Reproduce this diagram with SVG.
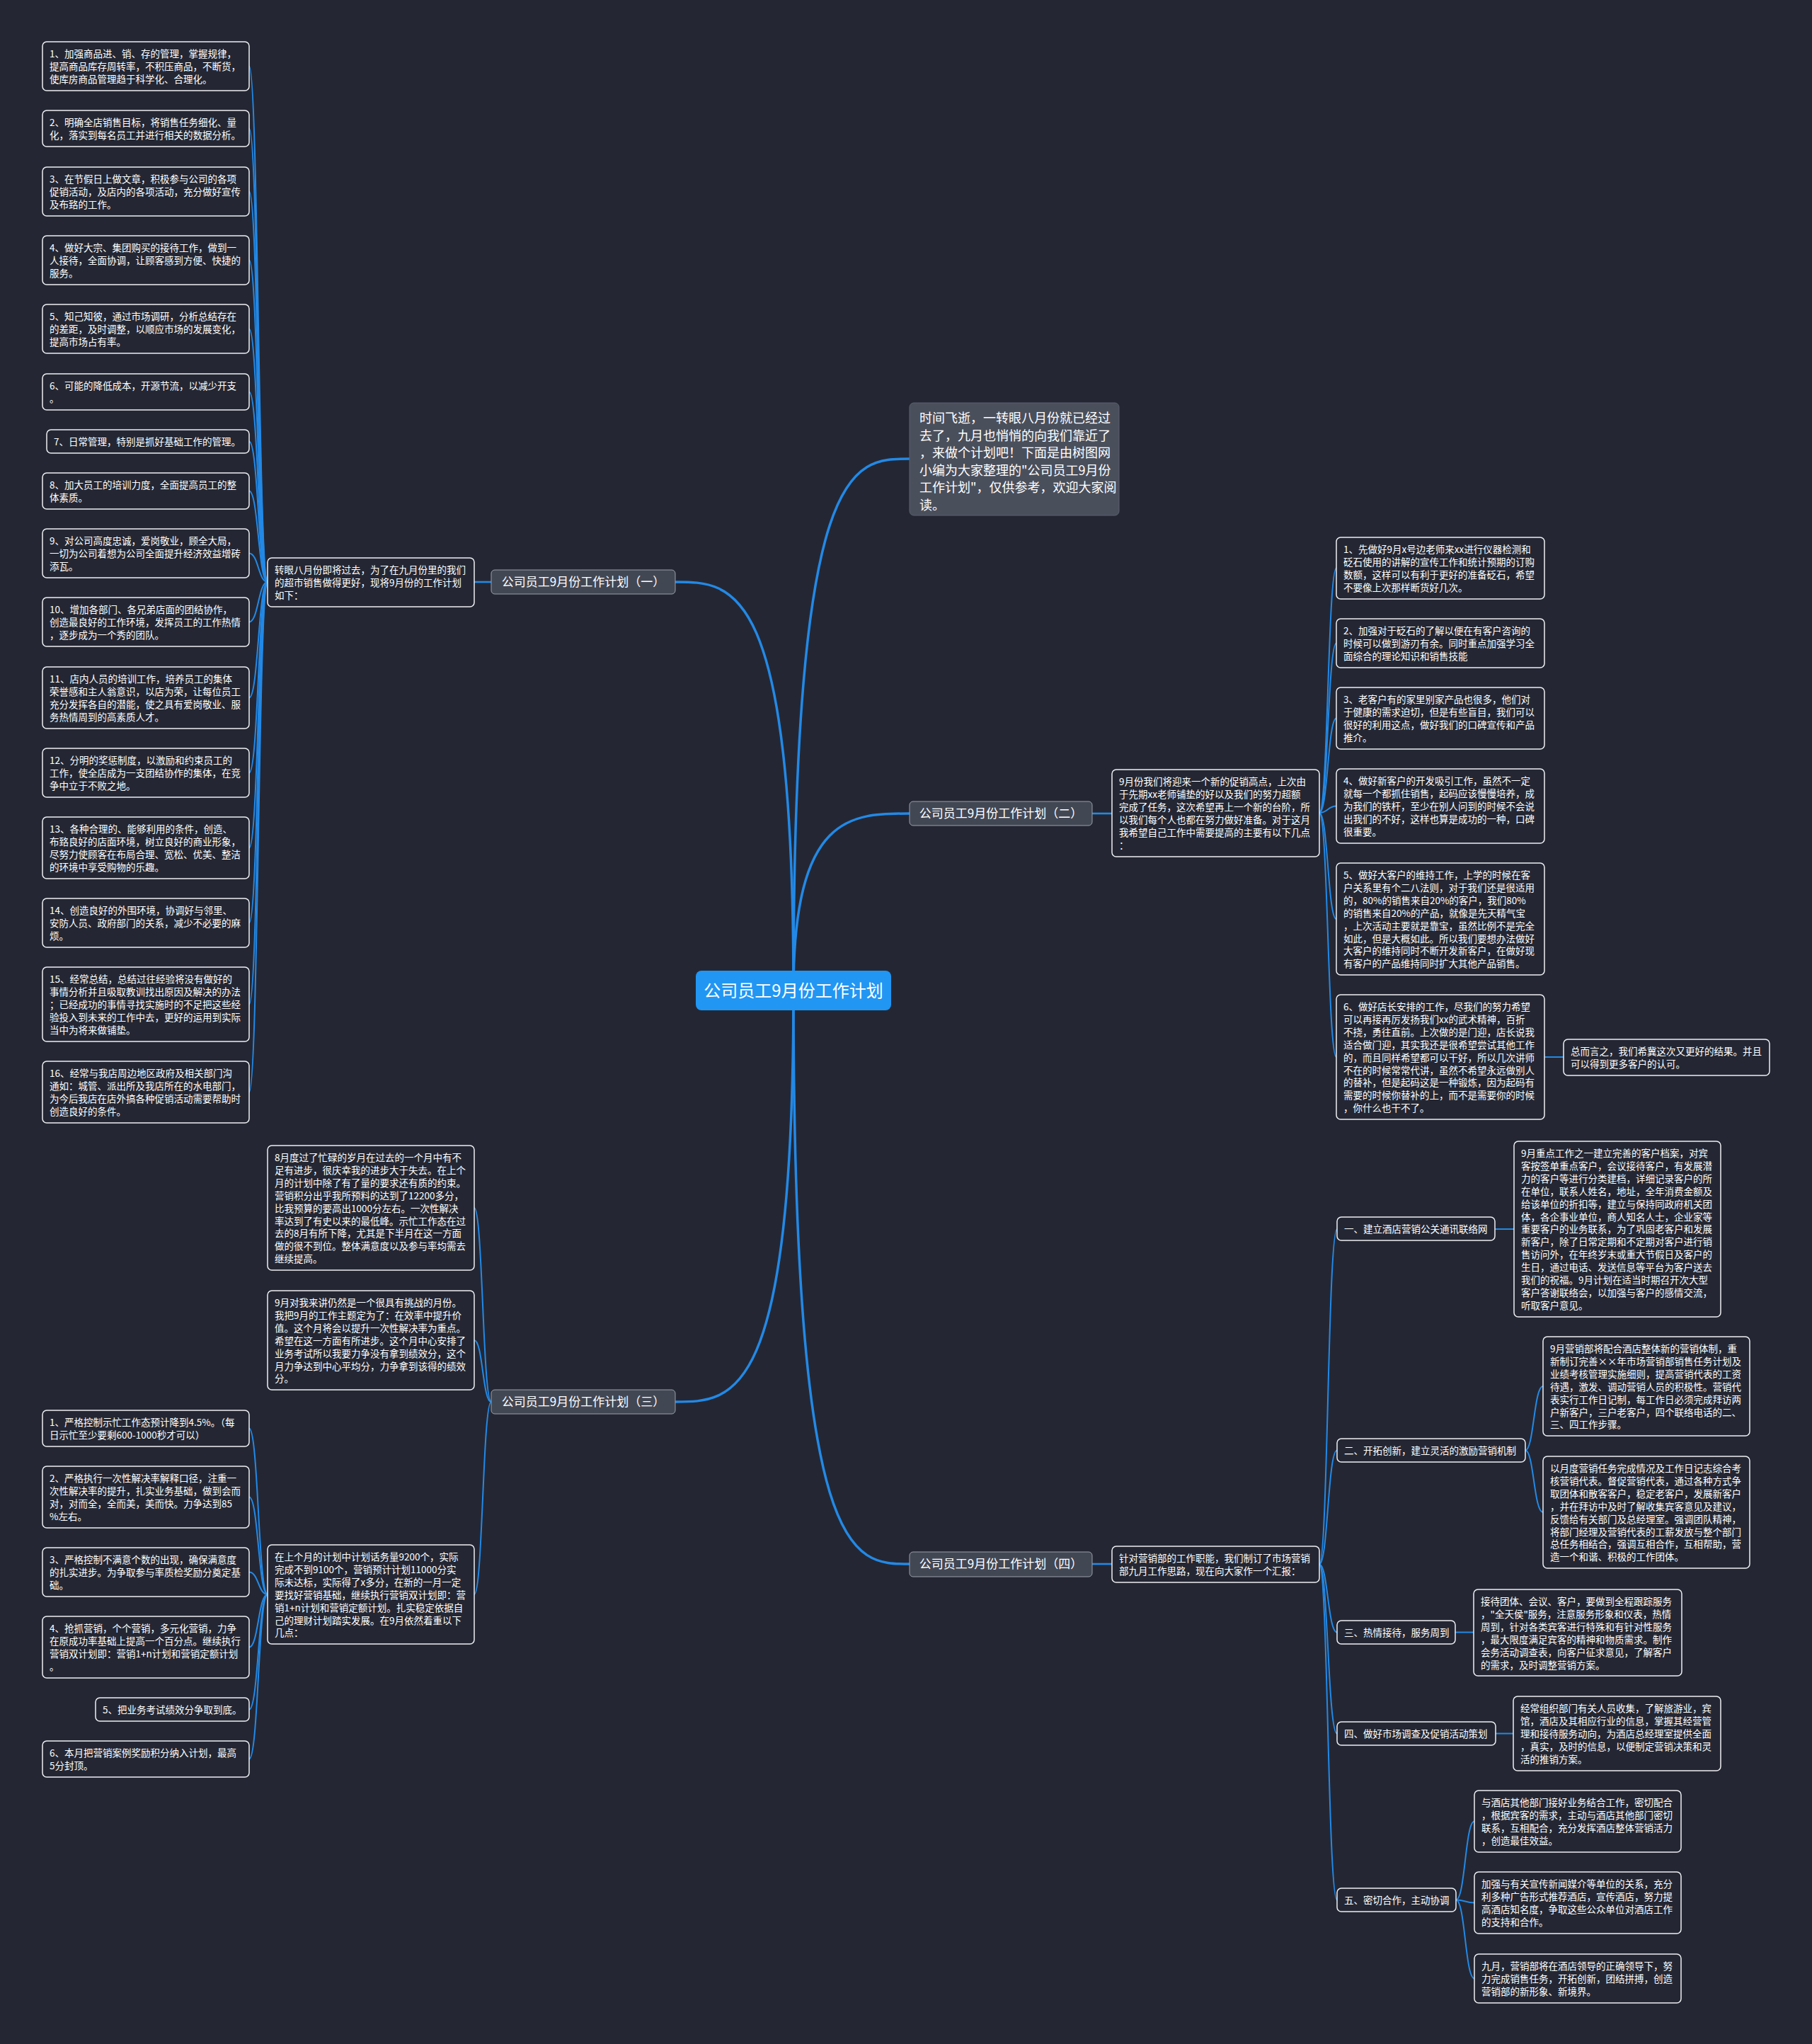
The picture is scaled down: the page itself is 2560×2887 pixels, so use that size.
<svg xmlns="http://www.w3.org/2000/svg" width="2560" height="2887" viewBox="0 0 2560 2887">
<style>
.t{font-family:"Noto Sans CJK SC","Noto Sans",sans-serif;font-size:13.5px;fill:#ffffff}
.leaf rect{fill:#242733;stroke:#eef0f3;stroke-width:1.5}
.lab rect{fill:#424754;stroke:#9aa0ab;stroke-width:1}
.lab text{font-family:"Noto Sans CJK SC","Noto Sans",sans-serif;font-size:17px;fill:#ffffff;text-anchor:middle}
.ln{fill:none;stroke:#2389e6;stroke-width:2}
.ln2{fill:none;stroke:#2389e6;stroke-width:2.6}
.tr{fill:none;stroke:#2389e6;stroke-width:3.5}
</style>
<rect width="2560" height="2887" fill="#242733"/>
<g id="connectors">
<path class="tr" d="M1121,1399 C1121,648 1203,648 1285,648"/>
<path class="tr" d="M1121,1399 C1121,822 1037,822 954,822"/>
<path class="tr" d="M1121,1399 C1121,1149 1203,1149 1285,1149"/>
<path class="tr" d="M1121,1399 C1121,1980 1037,1980 954,1980"/>
<path class="tr" d="M1121,1399 C1121,2209 1203,2209 1285,2209"/>
<path class="ln2" d="M694,822 L670,822"/>
<path class="ln2" d="M1543,1149 L1571,1149"/>
<path class="ln2" d="M1543,2209 L1571,2209"/>
<path class="ln" d="M2182,1493 L2209,1493"/>
<path class="ln" d="M2112,1736 L2139,1736"/>
<path class="ln" d="M2056,2305.5 L2082,2305.5"/>
<path class="ln" d="M2113,2448.5 L2138,2448.5"/>
<path class="ln" d="M378,822 C365,822 365,93.5 352,93.5"/>
<path class="ln" d="M378,822 C365,822 365,181.5 352,181.5"/>
<path class="ln" d="M378,822 C365,822 365,270.5 352,270.5"/>
<path class="ln" d="M378,822 C365,822 365,367.5 352,367.5"/>
<path class="ln" d="M378,822 C365,822 365,464.5 352,464.5"/>
<path class="ln" d="M378,822 C365,822 365,553.5 352,553.5"/>
<path class="ln" d="M378,822 C365,822 365,623.5 352,623.5"/>
<path class="ln" d="M378,822 C365,822 365,693.5 352,693.5"/>
<path class="ln" d="M378,822 C365,822 365,781.5 352,781.5"/>
<path class="ln" d="M378,822 C365,822 365,878.5 352,878.5"/>
<path class="ln" d="M378,822 C365,822 365,985.5 352,985.5"/>
<path class="ln" d="M378,822 C365,822 365,1091.5 352,1091.5"/>
<path class="ln" d="M378,822 C365,822 365,1197.5 352,1197.5"/>
<path class="ln" d="M378,822 C365,822 365,1303.5 352,1303.5"/>
<path class="ln" d="M378,822 C365,822 365,1418.5 352,1418.5"/>
<path class="ln" d="M378,822 C365,822 365,1542.5 352,1542.5"/>
<path class="ln" d="M694,1980 C682,1980 682,1706 670,1706"/>
<path class="ln" d="M694,1980 C682,1980 682,1893 670,1893"/>
<path class="ln" d="M694,1980 C682,1980 682,2252 670,2252"/>
<path class="ln" d="M378,2252 C365,2252 365,2017.5 352,2017.5"/>
<path class="ln" d="M378,2252 C365,2252 365,2114.5 352,2114.5"/>
<path class="ln" d="M378,2252 C365,2252 365,2220.5 352,2220.5"/>
<path class="ln" d="M378,2252 C365,2252 365,2326.5 352,2326.5"/>
<path class="ln" d="M378,2252 C365,2252 365,2414.5 352,2414.5"/>
<path class="ln" d="M378,2252 C365,2252 365,2484.5 352,2484.5"/>
<path class="ln" d="M1864,1148 C1876,1148 1876,802.5 1888,802.5"/>
<path class="ln" d="M1864,1148 C1876,1148 1876,908.5 1888,908.5"/>
<path class="ln" d="M1864,1148 C1876,1148 1876,1014.5 1888,1014.5"/>
<path class="ln" d="M1864,1148 C1876,1148 1876,1138.5 1888,1138.5"/>
<path class="ln" d="M1864,1148 C1876,1148 1876,1298 1888,1298"/>
<path class="ln" d="M1864,1148 C1876,1148 1876,1493 1888,1493"/>
<path class="ln" d="M1864,2209.5 C1876,2209.5 1876,1736 1889,1736"/>
<path class="ln" d="M1864,2209.5 C1876,2209.5 1876,2048.5 1889,2048.5"/>
<path class="ln" d="M1864,2209.5 C1876,2209.5 1876,2305.5 1889,2305.5"/>
<path class="ln" d="M1864,2209.5 C1876,2209.5 1876,2448.5 1889,2448.5"/>
<path class="ln" d="M1864,2209.5 C1876,2209.5 1876,2683.5 1889,2683.5"/>
<path class="ln" d="M2155,2048.5 C2167,2048.5 2167,1958 2180,1958"/>
<path class="ln" d="M2155,2048.5 C2167,2048.5 2167,2136 2180,2136"/>
<path class="ln" d="M2057,2683.5 C2070,2683.5 2070,2572.5 2083,2572.5"/>
<path class="ln" d="M2057,2683.5 C2070,2683.5 2070,2687.5 2083,2687.5"/>
<path class="ln" d="M2057,2683.5 C2070,2683.5 2070,2794.5 2083,2794.5"/>
</g>

<g id="root"><rect x="983" y="1371" width="276" height="56" rx="8" fill="#2196f3"/><text x="1121" y="1408" font-family="Noto Sans CJK SC, Noto Sans, sans-serif" font-size="24" fill="#ffffff" text-anchor="middle">公司员工9月份工作计划</text></g>

<g id="intro"><rect x="1285" y="569" width="296" height="159" rx="6" fill="#4a4f5c" stroke="#5c6170" stroke-width="1"/><text font-family="Noto Sans CJK SC, Noto Sans, sans-serif" font-size="18" fill="#ffffff"><tspan x="1299" y="597">时间飞逝，一转眼八月份就已经过</tspan><tspan x="1299" dy="24.5">去了，九月也悄悄的向我们靠近了</tspan><tspan x="1299" dy="24.5">，来做个计划吧！下面是由树图网</tspan><tspan x="1299" dy="24.5">小编为大家整理的"公司员工9月份</tspan><tspan x="1299" dy="24.5">工作计划"，仅供参考，欢迎大家阅</tspan><tspan x="1299" dy="24.5">读。</tspan></text></g>

<g id="b1" class="lab"><rect x="694" y="805" width="260" height="34" rx="5"/><text x="824" y="828">公司员工9月份工作计划（一）</text></g>
<g id="b2" class="lab"><rect x="1285" y="1132" width="258" height="34" rx="5"/><text x="1414" y="1155">公司员工9月份工作计划（二）</text></g>
<g id="b3" class="lab"><rect x="694" y="1963" width="260" height="34" rx="5"/><text x="824" y="1986">公司员工9月份工作计划（三）</text></g>
<g id="b4" class="lab"><rect x="1285" y="2192" width="258" height="35" rx="5"/><text x="1414" y="2215">公司员工9月份工作计划（四）</text></g>

<g id="b1t" class="leaf"><rect x="378" y="788" width="292" height="69" rx="6"/><text class="t"><tspan x="388" y="810">转眼八月份即将过去，为了在九月份里的我们</tspan><tspan x="388" dy="17.9">的超市销售做得更好，现将9月份的工作计划</tspan><tspan x="388" dy="17.9">如下：</tspan></text></g>

<g id="a1" class="leaf"><rect x="60" y="59" width="292" height="69" rx="6"/><text class="t"><tspan x="70" y="81">1、加强商品进、销、存的管理，掌握规律，</tspan><tspan x="70" dy="17.9">提高商品库存周转率，不积压商品，不断货，</tspan><tspan x="70" dy="17.9">使库房商品管理趋于科学化、合理化。</tspan></text></g>
<g id="a2" class="leaf"><rect x="60" y="156" width="292" height="51" rx="6"/><text class="t"><tspan x="70" y="178">2、明确全店销售目标，将销售任务细化、量</tspan><tspan x="70" dy="17.9">化，落实到每名员工并进行相关的数据分析。</tspan></text></g>
<g id="a3" class="leaf"><rect x="60" y="236" width="292" height="69" rx="6"/><text class="t"><tspan x="70" y="258">3、在节假日上做文章，积极参与公司的各项</tspan><tspan x="70" dy="17.9">促销活动，及店内的各项活动，充分做好宣传</tspan><tspan x="70" dy="17.9">及布臵的工作。</tspan></text></g>
<g id="a4" class="leaf"><rect x="60" y="333" width="292" height="69" rx="6"/><text class="t"><tspan x="70" y="355">4、做好大宗、集团购买的接待工作，做到一</tspan><tspan x="70" dy="17.9">人接待，全面协调，让顾客感到方便、快捷的</tspan><tspan x="70" dy="17.9">服务。</tspan></text></g>
<g id="a5" class="leaf"><rect x="60" y="430" width="292" height="69" rx="6"/><text class="t"><tspan x="70" y="452">5、知己知彼，通过市场调研，分析总结存在</tspan><tspan x="70" dy="17.9">的差距，及时调整，以顺应市场的发展变化，</tspan><tspan x="70" dy="17.9">提高市场占有率。</tspan></text></g>
<g id="a6" class="leaf"><rect x="60" y="528" width="292" height="51" rx="6"/><text class="t"><tspan x="70" y="550">6、可能的降低成本，开源节流，以减少开支</tspan><tspan x="70" dy="17.9">。</tspan></text></g>
<g id="a7" class="leaf"><rect x="66" y="607" width="286" height="33" rx="6"/><text class="t"><tspan x="76" y="629">7、日常管理，特别是抓好基础工作的管理。</tspan></text></g>
<g id="a8" class="leaf"><rect x="60" y="668" width="292" height="51" rx="6"/><text class="t"><tspan x="70" y="690">8、加大员工的培训力度，全面提高员工的整</tspan><tspan x="70" dy="17.9">体素质。</tspan></text></g>
<g id="a9" class="leaf"><rect x="60" y="747" width="292" height="69" rx="6"/><text class="t"><tspan x="70" y="769">9、对公司高度忠诚，爱岗敬业，顾全大局，</tspan><tspan x="70" dy="17.9">一切为公司着想为公司全面提升经济效益增砖</tspan><tspan x="70" dy="17.9">添瓦。</tspan></text></g>
<g id="a10" class="leaf"><rect x="60" y="844" width="292" height="69" rx="6"/><text class="t"><tspan x="70" y="866">10、增加各部门、各兄弟店面的团结协作，</tspan><tspan x="70" dy="17.9">创造最良好的工作环境，发挥员工的工作热情</tspan><tspan x="70" dy="17.9">，逐步成为一个秀的团队。</tspan></text></g>
<g id="a11" class="leaf"><rect x="60" y="942" width="292" height="87" rx="6"/><text class="t"><tspan x="70" y="964">11、店内人员的培训工作，培养员工的集体</tspan><tspan x="70" dy="17.9">荣誉感和主人翁意识，以店为荣，让每位员工</tspan><tspan x="70" dy="17.9">充分发挥各自的潜能，使之具有爱岗敬业、服</tspan><tspan x="70" dy="17.9">务热情周到的高素质人才。</tspan></text></g>
<g id="a12" class="leaf"><rect x="60" y="1057" width="292" height="69" rx="6"/><text class="t"><tspan x="70" y="1079">12、分明的奖惩制度，以激励和约束员工的</tspan><tspan x="70" dy="17.9">工作，使全店成为一支团结协作的集体，在竞</tspan><tspan x="70" dy="17.9">争中立于不败之地。</tspan></text></g>
<g id="a13" class="leaf"><rect x="60" y="1154" width="292" height="87" rx="6"/><text class="t"><tspan x="70" y="1176">13、各种合理的、能够利用的条件，创造、</tspan><tspan x="70" dy="17.9">布臵良好的店面环境，树立良好的商业形象，</tspan><tspan x="70" dy="17.9">尽努力使顾客在布局合理、宽松、优美、整洁</tspan><tspan x="70" dy="17.9">的环境中享受购物的乐趣。</tspan></text></g>
<g id="a14" class="leaf"><rect x="60" y="1269" width="292" height="69" rx="6"/><text class="t"><tspan x="70" y="1291">14、创造良好的外围环境，协调好与邻里、</tspan><tspan x="70" dy="17.9">安防人员、政府部门的关系，减少不必要的麻</tspan><tspan x="70" dy="17.9">烦。</tspan></text></g>
<g id="a15" class="leaf"><rect x="60" y="1366" width="292" height="105" rx="6"/><text class="t"><tspan x="70" y="1388">15、经常总结，总结过往经验将没有做好的</tspan><tspan x="70" dy="17.9">事情分析并且吸取教训找出原因及解决的办法</tspan><tspan x="70" dy="17.9">；已经成功的事情寻找实施时的不足把这些经</tspan><tspan x="70" dy="17.9">验投入到未来的工作中去，更好的运用到实际</tspan><tspan x="70" dy="17.9">当中为将来做铺垫。</tspan></text></g>
<g id="a16" class="leaf"><rect x="60" y="1499" width="292" height="87" rx="6"/><text class="t"><tspan x="70" y="1521">16、经常与我店周边地区政府及相关部门沟</tspan><tspan x="70" dy="17.9">通如：城管、派出所及我店所在的水电部门，</tspan><tspan x="70" dy="17.9">为今后我店在店外搞各种促销活动需要帮助时</tspan><tspan x="70" dy="17.9">创造良好的条件。</tspan></text></g>

<g id="b2t" class="leaf"><rect x="1571" y="1087" width="293" height="123" rx="6"/><text class="t"><tspan x="1581" y="1109">9月份我们将迎来一个新的促销高点，上次由</tspan><tspan x="1581" dy="17.9">于先期xx老师铺垫的好以及我们的努力超额</tspan><tspan x="1581" dy="17.9">完成了任务，这次希望再上一个新的台阶，所</tspan><tspan x="1581" dy="17.9">以我们每个人也都在努力做好准备。对于这月</tspan><tspan x="1581" dy="17.9">我希望自己工作中需要提高的主要有以下几点</tspan><tspan x="1581" dy="17.9">：</tspan></text></g>
<g id="c1" class="leaf"><rect x="1888" y="759" width="294" height="87" rx="6"/><text class="t"><tspan x="1898" y="781">1、先做好9月x号边老师来xx进行仪器检测和</tspan><tspan x="1898" dy="17.9">砭石使用的讲解的宣传工作和统计预期的订购</tspan><tspan x="1898" dy="17.9">数额，这样可以有利于更好的准备砭石，希望</tspan><tspan x="1898" dy="17.9">不要像上次那样断货好几次。</tspan></text></g>
<g id="c2" class="leaf"><rect x="1888" y="874" width="294" height="69" rx="6"/><text class="t"><tspan x="1898" y="896">2、加强对于砭石的了解以便在有客户咨询的</tspan><tspan x="1898" dy="17.9">时候可以做到游刃有余。同时重点加强学习全</tspan><tspan x="1898" dy="17.9">面综合的理论知识和销售技能</tspan></text></g>
<g id="c3" class="leaf"><rect x="1888" y="971" width="294" height="87" rx="6"/><text class="t"><tspan x="1898" y="993">3、老客户有的家里别家产品也很多，他们对</tspan><tspan x="1898" dy="17.9">于健康的需求迫切，但是有些盲目，我们可以</tspan><tspan x="1898" dy="17.9">很好的利用这点，做好我们的口碑宣传和产品</tspan><tspan x="1898" dy="17.9">推介。</tspan></text></g>
<g id="c4" class="leaf"><rect x="1888" y="1086" width="294" height="105" rx="6"/><text class="t"><tspan x="1898" y="1108">4、做好新客户的开发吸引工作，虽然不一定</tspan><tspan x="1898" dy="17.9">就每一个都抓住销售，起码应该慢慢培养，成</tspan><tspan x="1898" dy="17.9">为我们的铁杆，至少在别人问到的时候不会说</tspan><tspan x="1898" dy="17.9">出我们的不好，这样也算是成功的一种，口碑</tspan><tspan x="1898" dy="17.9">很重要。</tspan></text></g>
<g id="c5" class="leaf"><rect x="1888" y="1219" width="294" height="158" rx="6"/><text class="t"><tspan x="1898" y="1241">5、做好大客户的维持工作，上学的时候在客</tspan><tspan x="1898" dy="17.9">户关系里有个二八法则，对于我们还是很适用</tspan><tspan x="1898" dy="17.9">的，80%的销售来自20%的客户，我们80%</tspan><tspan x="1898" dy="17.9">的销售来自20%的产品，就像是先天精气宝</tspan><tspan x="1898" dy="17.9">，上次活动主要就是靠宝，虽然比例不是完全</tspan><tspan x="1898" dy="17.9">如此，但是大概如此。所以我们要想办法做好</tspan><tspan x="1898" dy="17.9">大客户的维持同时不断开发新客户，在做好现</tspan><tspan x="1898" dy="17.9">有客户的产品维持同时扩大其他产品销售。</tspan></text></g>
<g id="c6" class="leaf"><rect x="1888" y="1405" width="294" height="176" rx="6"/><text class="t"><tspan x="1898" y="1427">6、做好店长安排的工作，尽我们的努力希望</tspan><tspan x="1898" dy="17.9">可以再接再厉发扬我们xx的武术精神，百折</tspan><tspan x="1898" dy="17.9">不挠，勇往直前。上次做的是门迎，店长说我</tspan><tspan x="1898" dy="17.9">适合做门迎，其实我还是很希望尝试其他工作</tspan><tspan x="1898" dy="17.9">的，而且同样希望都可以干好，所以几次讲师</tspan><tspan x="1898" dy="17.9">不在的时候常常代讲，虽然不希望永远做别人</tspan><tspan x="1898" dy="17.9">的替补，但是起码这是一种锻炼，因为起码有</tspan><tspan x="1898" dy="17.9">需要的时候你替补的上，而不是需要你的时候</tspan><tspan x="1898" dy="17.9">，你什么也干不了。</tspan></text></g>
<g id="c7" class="leaf"><rect x="2209" y="1468" width="291" height="51" rx="6"/><text class="t"><tspan x="2219" y="1490">总而言之，我们希冀这次又更好的结果。并且</tspan><tspan x="2219" dy="17.9">可以得到更多客户的认可。</tspan></text></g>

<g id="d1" class="leaf"><rect x="378" y="1618" width="292" height="176" rx="6"/><text class="t"><tspan x="388" y="1640">8月度过了忙碌的岁月在过去的一个月中有不</tspan><tspan x="388" dy="17.9">足有进步，很庆幸我的进步大于失去。在上个</tspan><tspan x="388" dy="17.9">月的计划中除了有了量的要求还有质的约束。</tspan><tspan x="388" dy="17.9">营销积分出乎我所预料的达到了12200多分，</tspan><tspan x="388" dy="17.9">比我预算的要高出1000分左右。一次性解决</tspan><tspan x="388" dy="17.9">率达到了有史以来的最低峰。示忙工作态在过</tspan><tspan x="388" dy="17.9">去的8月有所下降，尤其是下半月在这一方面</tspan><tspan x="388" dy="17.9">做的很不到位。整体满意度以及参与率均需去</tspan><tspan x="388" dy="17.9">继续提高。</tspan></text></g>
<g id="d2" class="leaf"><rect x="378" y="1823" width="292" height="140" rx="6"/><text class="t"><tspan x="388" y="1845">9月对我来讲仍然是一个很具有挑战的月份。</tspan><tspan x="388" dy="17.9">我把9月的工作主题定为了：在效率中提升价</tspan><tspan x="388" dy="17.9">值。这个月将会以提升一次性解决率为重点。</tspan><tspan x="388" dy="17.9">希望在这一方面有所进步。这个月中心安排了</tspan><tspan x="388" dy="17.9">业务考试所以我要力争没有拿到绩效分，这个</tspan><tspan x="388" dy="17.9">月力争达到中心平均分，力争拿到该得的绩效</tspan><tspan x="388" dy="17.9">分。</tspan></text></g>
<g id="d3" class="leaf"><rect x="378" y="2182" width="292" height="140" rx="6"/><text class="t"><tspan x="388" y="2204">在上个月的计划中计划话务量9200个，实际</tspan><tspan x="388" dy="17.9">完成不到9100个，营销预计计划11000分实</tspan><tspan x="388" dy="17.9">际未达标，实际得了x多分，在新的一月一定</tspan><tspan x="388" dy="17.9">要找好营销基础，继续执行营销双计划即：营</tspan><tspan x="388" dy="17.9">销1+n计划和营销定额计划。扎实稳定依据自</tspan><tspan x="388" dy="17.9">己的理财计划踏实发展。在9月依然着重以下</tspan><tspan x="388" dy="17.9">几点：</tspan></text></g>
<g id="e1" class="leaf"><rect x="60" y="1992" width="292" height="51" rx="6"/><text class="t"><tspan x="70" y="2014">1、严格控制示忙工作态预计降到4.5%。（每</tspan><tspan x="70" dy="17.9">日示忙至少要剩600-1000秒才可以）</tspan></text></g>
<g id="e2" class="leaf"><rect x="60" y="2071" width="292" height="87" rx="6"/><text class="t"><tspan x="70" y="2093">2、严格执行一次性解决率解释口径，注重一</tspan><tspan x="70" dy="17.9">次性解决率的提升，扎实业务基础，做到会而</tspan><tspan x="70" dy="17.9">对，对而全，全而美，美而快。力争达到85</tspan><tspan x="70" dy="17.9">%左右。</tspan></text></g>
<g id="e3" class="leaf"><rect x="60" y="2186" width="292" height="69" rx="6"/><text class="t"><tspan x="70" y="2208">3、严格控制不满意个数的出现，确保满意度</tspan><tspan x="70" dy="17.9">的扎实进步。为争取参与率质检奖励分奠定基</tspan><tspan x="70" dy="17.9">础。</tspan></text></g>
<g id="e4" class="leaf"><rect x="60" y="2283" width="292" height="87" rx="6"/><text class="t"><tspan x="70" y="2305">4、抢抓营销，个个营销，多元化营销，力争</tspan><tspan x="70" dy="17.9">在原成功率基础上提高一个百分点。继续执行</tspan><tspan x="70" dy="17.9">营销双计划即：营销1+n计划和营销定额计划</tspan><tspan x="70" dy="17.9">。</tspan></text></g>
<g id="e5" class="leaf"><rect x="135" y="2398" width="217" height="33" rx="6"/><text class="t"><tspan x="145" y="2420">5、把业务考试绩效分争取到底。</tspan></text></g>
<g id="e6" class="leaf"><rect x="60" y="2459" width="292" height="51" rx="6"/><text class="t"><tspan x="70" y="2481">6、本月把营销案例奖励积分纳入计划，最高</tspan><tspan x="70" dy="17.9">5分封顶。</tspan></text></g>

<g id="b4t" class="leaf"><rect x="1571" y="2184" width="293" height="51" rx="6"/><text class="t"><tspan x="1581" y="2206">针对营销部的工作职能，我们制订了市场营销</tspan><tspan x="1581" dy="17.9">部九月工作思路，现在向大家作一个汇报：</tspan></text></g>
<g id="f1" class="leaf"><rect x="1889" y="1719" width="223" height="33" rx="6"/><text class="t"><tspan x="1899" y="1741">一、建立酒店营销公关通讯联络网</tspan></text></g>
<g id="f1t" class="leaf"><rect x="2139" y="1612" width="292" height="248" rx="6"/><text class="t"><tspan x="2149" y="1634">9月重点工作之一建立完善的客户档案，对宾</tspan><tspan x="2149" dy="17.9">客按签单重点客户，会议接待客户，有发展潜</tspan><tspan x="2149" dy="17.9">力的客户等进行分类建档，详细记录客户的所</tspan><tspan x="2149" dy="17.9">在单位，联系人姓名，地址，全年消费金额及</tspan><tspan x="2149" dy="17.9">给该单位的折扣等，建立与保持同政府机关团</tspan><tspan x="2149" dy="17.9">体，各企事业单位，商人知名人士，企业家等</tspan><tspan x="2149" dy="17.9">重要客户的业务联系，为了巩固老客户和发展</tspan><tspan x="2149" dy="17.9">新客户，除了日常定期和不定期对客户进行销</tspan><tspan x="2149" dy="17.9">售访问外，在年终岁末或重大节假日及客户的</tspan><tspan x="2149" dy="17.9">生日，通过电话、发送信息等平台为客户送去</tspan><tspan x="2149" dy="17.9">我们的祝福。9月计划在适当时期召开次大型</tspan><tspan x="2149" dy="17.9">客户答谢联络会，以加强与客户的感情交流，</tspan><tspan x="2149" dy="17.9">听取客户意见。</tspan></text></g>
<g id="f2" class="leaf"><rect x="1889" y="2032" width="266" height="33" rx="6"/><text class="t"><tspan x="1899" y="2054">二、开拓创新，建立灵活的激励营销机制</tspan></text></g>
<g id="f2a" class="leaf"><rect x="2180" y="1888" width="292" height="140" rx="6"/><text class="t"><tspan x="2190" y="1910">9月营销部将配合酒店整体新的营销体制，重</tspan><tspan x="2190" dy="17.9">新制订完善××年市场营销部销售任务计划及</tspan><tspan x="2190" dy="17.9">业绩考核管理实施细则，提高营销代表的工资</tspan><tspan x="2190" dy="17.9">待遇，激发、调动营销人员的积极性。营销代</tspan><tspan x="2190" dy="17.9">表实行工作日记制，每工作日必须完成拜访两</tspan><tspan x="2190" dy="17.9">户新客户，三户老客户，四个联络电话的二、</tspan><tspan x="2190" dy="17.9">三、四工作步骤。</tspan></text></g>
<g id="f2b" class="leaf"><rect x="2180" y="2057" width="292" height="158" rx="6"/><text class="t"><tspan x="2190" y="2079">以月度营销任务完成情况及工作日记志综合考</tspan><tspan x="2190" dy="17.9">核营销代表。督促营销代表，通过各种方式争</tspan><tspan x="2190" dy="17.9">取团体和散客客户，稳定老客户，发展新客户</tspan><tspan x="2190" dy="17.9">，并在拜访中及时了解收集宾客意见及建议，</tspan><tspan x="2190" dy="17.9">反馈给有关部门及总经理室。强调团队精神，</tspan><tspan x="2190" dy="17.9">将部门经理及营销代表的工薪发放与整个部门</tspan><tspan x="2190" dy="17.9">总任务相结合，强调互相合作，互相帮助，营</tspan><tspan x="2190" dy="17.9">造一个和谐、积极的工作团体。</tspan></text></g>
<g id="f3" class="leaf"><rect x="1889" y="2289" width="167" height="33" rx="6"/><text class="t"><tspan x="1899" y="2311">三、热情接待，服务周到</tspan></text></g>
<g id="f3t" class="leaf"><rect x="2082" y="2245" width="294" height="122" rx="6"/><text class="t"><tspan x="2092" y="2267">接待团体、会议、客户，要做到全程跟踪服务</tspan><tspan x="2092" dy="17.9">，"全天侯"服务，注意服务形象和仪表，热情</tspan><tspan x="2092" dy="17.9">周到，针对各类宾客进行特殊和有针对性服务</tspan><tspan x="2092" dy="17.9">，最大限度满足宾客的精神和物质需求。制作</tspan><tspan x="2092" dy="17.9">会务活动调查表，向客户征求意见，了解客户</tspan><tspan x="2092" dy="17.9">的需求，及时调整营销方案。</tspan></text></g>
<g id="f4" class="leaf"><rect x="1889" y="2432" width="224" height="33" rx="6"/><text class="t"><tspan x="1899" y="2454">四、做好市场调查及促销活动策划</tspan></text></g>
<g id="f4t" class="leaf"><rect x="2138" y="2396" width="293" height="105" rx="6"/><text class="t"><tspan x="2148" y="2418">经常组织部门有关人员收集，了解旅游业，宾</tspan><tspan x="2148" dy="17.9">馆，酒店及其相应行业的信息，掌握其经营管</tspan><tspan x="2148" dy="17.9">理和接待服务动向，为酒店总经理室提供全面</tspan><tspan x="2148" dy="17.9">，真实，及时的信息，以便制定营销决策和灵</tspan><tspan x="2148" dy="17.9">活的推销方案。</tspan></text></g>
<g id="f5" class="leaf"><rect x="1889" y="2667" width="168" height="33" rx="6"/><text class="t"><tspan x="1899" y="2689">五、密切合作，主动协调</tspan></text></g>
<g id="f5a" class="leaf"><rect x="2083" y="2529" width="292" height="87" rx="6"/><text class="t"><tspan x="2093" y="2551">与酒店其他部门接好业务结合工作，密切配合</tspan><tspan x="2093" dy="17.9">，根据宾客的需求，主动与酒店其他部门密切</tspan><tspan x="2093" dy="17.9">联系，互相配合，充分发挥酒店整体营销活力</tspan><tspan x="2093" dy="17.9">，创造最佳效益。</tspan></text></g>
<g id="f5b" class="leaf"><rect x="2083" y="2644" width="292" height="87" rx="6"/><text class="t"><tspan x="2093" y="2666">加强与有关宣传新闻媒介等单位的关系，充分</tspan><tspan x="2093" dy="17.9">利多种广告形式推荐酒店，宣传酒店，努力提</tspan><tspan x="2093" dy="17.9">高酒店知名度，争取这些公众单位对酒店工作</tspan><tspan x="2093" dy="17.9">的支持和合作。</tspan></text></g>
<g id="f5c" class="leaf"><rect x="2083" y="2760" width="292" height="69" rx="6"/><text class="t"><tspan x="2093" y="2782">九月，营销部将在酒店领导的正确领导下，努</tspan><tspan x="2093" dy="17.9">力完成销售任务，开拓创新，团结拼搏，创造</tspan><tspan x="2093" dy="17.9">营销部的新形象、新境界。</tspan></text></g>
</svg>
